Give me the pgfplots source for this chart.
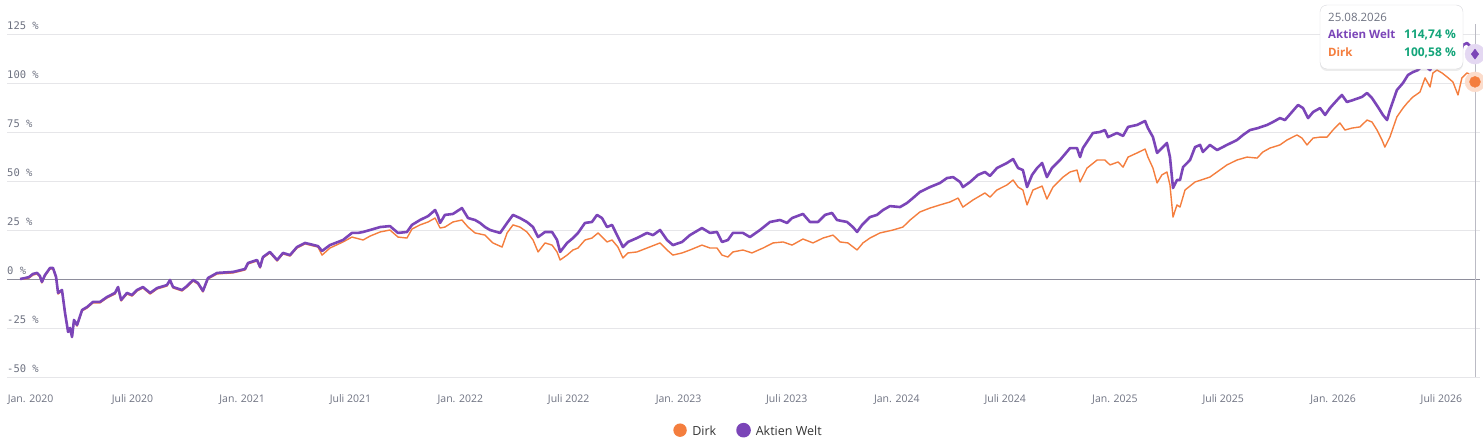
\documentclass[border=0pt]{standalone}
\usepackage{fontspec}
\setmainfont{Open Sans}
\newfontfamily\monof{DejaVu Sans Mono}
\usepackage{pgfplots}
\usepackage{pgfplotstable}
\pgfplotsset{compat=1.18}
\usetikzlibrary{shadows}
\definecolor{welt}{HTML}{7B45B8}
\definecolor{dirk}{HTML}{F47E3E}
\definecolor{welthalo}{HTML}{E4D8F2}
\definecolor{dirkhalo}{HTML}{FCDCCB}
\definecolor{tipgreen}{HTML}{14A57A}
\definecolor{labelgray}{HTML}{6E7281}
\definecolor{gridgray}{HTML}{E6E6E9}
\definecolor{zerogray}{HTML}{8E8E9C}
\definecolor{legendtext}{HTML}{333333}
\definecolor{tipborder}{HTML}{D8D8DC}

\pgfplotstableread{
x y
2019.982 0.0
2020.005 0.5
2020.023 1.0
2020.041 2.6
2020.060 3.1
2020.073 1.5
2020.082 -1.5
2020.096 2.0
2020.119 5.6
2020.133 5.6
2020.147 1.0
2020.156 -7.1
2020.174 -5.6
2020.188 -17.3
2020.202 -27.0
2020.211 -25.0
2020.220 -29.6
2020.229 -20.9
2020.243 -23.5
2020.266 -15.8
2020.289 -14.3
2020.316 -11.7
2020.348 -11.7
2020.380 -9.2
2020.417 -7.1
2020.431 -4.1
2020.445 -10.7
2020.472 -7.1
2020.495 -8.2
2020.518 -5.6
2020.545 -4.1
2020.578 -7.1
2020.610 -4.6
2020.655 -3.1
2020.669 -0.5
2020.683 -4.1
2020.724 -5.6
2020.747 -3.6
2020.775 -0.5
2020.797 -2.0
2020.820 -6.1
2020.843 0.5
2020.885 3.1
2020.958 3.6
2021.013 5.1
2021.027 8.2
2021.068 9.7
2021.082 6.1
2021.095 11.2
2021.127 13.8
2021.160 9.7
2021.187 13.3
2021.219 12.2
2021.251 16.3
2021.288 18.4
2021.347 16.8
2021.366 14.3
2021.402 17.3
2021.462 19.9
2021.503 23.5
2021.531 23.5
2021.554 24.0
2021.586 25.0
2021.632 26.5
2021.677 27.0
2021.714 23.5
2021.755 24.0
2021.778 27.6
2021.815 30.1
2021.852 32.1
2021.884 35.2
2021.897 32.1
2021.907 28.6
2021.929 32.7
2021.966 33.2
2022.007 36.2
2022.035 31.1
2022.067 30.1
2022.090 28.6
2022.113 26.5
2022.136 25.0
2022.182 23.5
2022.214 28.6
2022.241 32.7
2022.273 31.1
2022.305 29.1
2022.333 26.5
2022.356 21.4
2022.388 24.0
2022.420 24.0
2022.443 19.9
2022.457 13.8
2022.489 18.4
2022.516 20.9
2022.539 23.5
2022.571 28.6
2022.603 29.1
2022.626 32.7
2022.649 31.1
2022.672 26.5
2022.695 27.6
2022.718 22.4
2022.745 16.3
2022.768 18.9
2022.809 20.9
2022.855 23.5
2022.883 22.4
2022.915 25.0
2022.947 19.9
2022.974 17.3
2023.016 18.9
2023.052 22.4
2023.107 26.0
2023.144 23.5
2023.176 24.0
2023.199 18.9
2023.226 19.9
2023.249 23.5
2023.295 23.5
2023.327 21.4
2023.373 25.0
2023.419 29.1
2023.465 30.1
2023.497 28.6
2023.520 31.1
2023.570 33.2
2023.602 29.1
2023.639 29.1
2023.671 32.7
2023.703 33.7
2023.726 30.1
2023.772 29.1
2023.799 26.5
2023.818 24.0
2023.841 27.6
2023.877 31.6
2023.909 32.7
2023.937 35.2
2023.969 37.2
2024.015 36.7
2024.047 38.8
2024.074 41.3
2024.106 44.4
2024.152 46.9
2024.198 49.0
2024.230 51.5
2024.258 52.0
2024.290 49.5
2024.303 46.9
2024.336 49.5
2024.372 53.1
2024.404 54.6
2024.427 52.6
2024.459 56.6
2024.505 59.2
2024.533 61.2
2024.556 56.6
2024.578 55.6
2024.597 46.9
2024.620 53.1
2024.643 56.6
2024.666 59.2
2024.688 52.0
2024.711 56.6
2024.748 60.7
2024.794 66.8
2024.826 66.8
2024.840 62.2
2024.853 66.8
2024.899 74.5
2024.931 75.0
2024.954 76.0
2024.968 72.4
2025.009 74.5
2025.037 73.0
2025.060 77.6
2025.101 78.6
2025.138 80.6
2025.151 77.0
2025.174 72.4
2025.193 64.3
2025.215 66.8
2025.238 69.4
2025.252 62.2
2025.266 46.4
2025.284 50.5
2025.298 50.5
2025.312 57.1
2025.344 60.7
2025.367 67.3
2025.390 68.4
2025.403 64.8
2025.435 68.4
2025.468 65.8
2025.513 68.4
2025.559 70.9
2025.587 73.5
2025.619 76.0
2025.655 77.0
2025.697 78.6
2025.724 80.1
2025.756 82.1
2025.779 81.1
2025.811 85.2
2025.839 88.8
2025.862 87.2
2025.885 82.1
2025.908 85.2
2025.940 87.2
2025.963 83.7
2025.985 87.2
2026.018 91.3
2026.040 93.9
2026.063 90.3
2026.091 91.3
2026.132 92.9
2026.155 94.9
2026.178 92.3
2026.205 87.8
2026.228 83.7
2026.247 81.1
2026.260 86.2
2026.292 96.4
2026.320 100.0
2026.343 104.1
2026.366 105.6
2026.389 106.6
2026.398 107.7
2026.421 108.7
2026.444 106.6
2026.457 109.7
2026.476 112.8
2026.499 114.3
2026.522 115.8
2026.549 114.3
2026.572 111.7
2026.595 119.4
2026.613 120.4
2026.636 117.9
2026.650 114.74
}\welttable

\pgfplotstableread{
x y
2019.982 0.0
2020.005 0.0
2020.023 0.5
2020.041 2.0
2020.060 2.6
2020.073 1.0
2020.082 -2.0
2020.096 1.5
2020.119 5.1
2020.133 5.1
2020.147 0.5
2020.156 -7.7
2020.174 -6.1
2020.188 -17.9
2020.202 -27.0
2020.211 -26.0
2020.220 -29.6
2020.229 -21.4
2020.243 -24.0
2020.266 -16.3
2020.289 -14.8
2020.316 -12.2
2020.348 -12.2
2020.380 -9.7
2020.417 -7.7
2020.431 -4.6
2020.445 -11.2
2020.472 -7.7
2020.495 -8.7
2020.518 -6.1
2020.545 -4.6
2020.578 -7.7
2020.610 -5.1
2020.655 -3.6
2020.669 -1.0
2020.683 -4.6
2020.724 -6.1
2020.747 -4.1
2020.775 -1.0
2020.797 -2.6
2020.820 -6.6
2020.843 0.0
2020.885 2.6
2020.958 3.1
2021.013 4.6
2021.027 7.7
2021.068 9.2
2021.082 5.6
2021.095 10.7
2021.127 13.3
2021.160 9.2
2021.187 12.8
2021.219 11.7
2021.251 15.8
2021.288 17.9
2021.347 16.3
2021.366 12.2
2021.402 15.8
2021.462 18.9
2021.503 21.4
2021.554 19.9
2021.586 21.9
2021.632 24.0
2021.677 25.0
2021.714 21.4
2021.755 20.9
2021.778 25.5
2021.815 27.6
2021.852 29.1
2021.884 31.1
2021.907 26.0
2021.929 26.5
2021.966 29.1
2022.007 30.1
2022.035 26.5
2022.067 23.5
2022.113 22.4
2022.149 18.4
2022.191 16.3
2022.214 23.5
2022.241 27.6
2022.273 26.5
2022.305 24.0
2022.333 19.9
2022.356 13.8
2022.388 18.4
2022.420 17.3
2022.443 13.8
2022.457 9.7
2022.489 12.2
2022.516 14.8
2022.539 15.8
2022.571 19.9
2022.603 20.9
2022.631 23.5
2022.672 18.9
2022.695 19.9
2022.722 16.3
2022.745 10.7
2022.768 13.3
2022.809 13.8
2022.855 15.8
2022.915 18.4
2022.947 14.8
2022.974 12.2
2023.016 13.3
2023.052 14.8
2023.107 17.3
2023.144 15.8
2023.176 15.8
2023.199 12.2
2023.226 11.2
2023.249 13.8
2023.295 14.8
2023.336 13.3
2023.387 15.8
2023.433 18.4
2023.479 18.9
2023.520 17.3
2023.570 20.4
2023.616 18.4
2023.662 20.9
2023.708 22.4
2023.740 18.9
2023.776 18.4
2023.818 14.8
2023.845 18.4
2023.877 20.9
2023.923 23.5
2023.983 25.0
2024.028 26.5
2024.061 30.1
2024.106 34.2
2024.152 36.2
2024.198 37.8
2024.244 39.3
2024.281 41.3
2024.303 36.7
2024.349 40.3
2024.404 43.9
2024.427 41.8
2024.459 45.4
2024.505 48.0
2024.533 50.5
2024.556 46.9
2024.578 45.4
2024.597 37.8
2024.624 45.4
2024.666 47.4
2024.688 40.8
2024.716 46.9
2024.762 52.0
2024.794 54.6
2024.826 55.6
2024.840 49.5
2024.872 56.6
2024.918 60.7
2024.954 60.7
2024.977 58.2
2025.014 59.7
2025.037 57.1
2025.060 62.2
2025.101 64.3
2025.138 66.3
2025.151 62.2
2025.174 56.6
2025.193 49.0
2025.215 53.1
2025.238 54.6
2025.252 48.0
2025.266 31.6
2025.284 37.8
2025.298 36.7
2025.321 45.4
2025.367 49.5
2025.435 52.0
2025.513 58.2
2025.559 60.7
2025.605 62.2
2025.651 61.7
2025.678 64.8
2025.710 66.8
2025.756 68.4
2025.788 70.9
2025.834 73.5
2025.857 71.9
2025.880 68.4
2025.908 71.9
2025.940 72.4
2025.972 72.4
2025.999 76.0
2026.031 79.6
2026.054 76.0
2026.086 77.0
2026.123 77.6
2026.155 81.1
2026.178 80.1
2026.201 76.0
2026.224 70.9
2026.237 67.3
2026.260 72.4
2026.292 82.7
2026.320 87.2
2026.343 90.3
2026.366 92.9
2026.398 95.4
2026.421 102.6
2026.444 98.0
2026.457 105.1
2026.476 106.6
2026.499 105.1
2026.522 103.1
2026.549 100.5
2026.572 93.9
2026.590 102.6
2026.613 105.1
2026.636 104.1
2026.650 100.58
}\dirktable

\begin{document}
\begin{tikzpicture}
\path[use as bounding box] (0pt,0pt) rectangle (1483pt,440pt);
\begin{axis}[
  at={(7pt,63pt)}, anchor=south west,
  scale only axis, width=1473pt, height=352.8pt,
  xmin=2019.922, xmax=2026.673, ymin=-50, ymax=130,
  axis line style={draw=none},
  major tick length=0pt,
  ytick={-50,-25,0,25,50,75,100,125},
  yticklabels={-50 \%,-25 \%,0 \%,25 \%,50 \%,75 \%,100 \%,125 \%},
  yticklabel style={anchor=base west, inner sep=0pt, yshift=5pt,
    font=\monof\fontsize{10.5}{12}\selectfont, text=labelgray},
  ymajorgrids, grid style={gridgray, line width=1pt},
  extra y ticks={0}, extra y tick labels={},
  extra y tick style={grid style={zerogray, line width=1pt}},
  xtick={2020,2020.497,2021,2021.496,2022,2022.496,2023,2023.496,2024,2024.497,2025,2025.496,2026,2026.496},
  xticklabels={\hspace*{13pt}Jan. 2020,Juli 2020,Jan. 2021,Juli 2021,Jan. 2022,Juli 2022,Jan. 2023,Juli 2023,Jan. 2024,Juli 2024,Jan. 2025,Juli 2025,Jan. 2026,Juli 2026},
  xticklabel style={anchor=base, inner sep=0pt, yshift=-25pt,
    font=\fontsize{10.5}{12}\selectfont, text=labelgray},
  clip=false,
  legend columns=2,
  legend style={at={(0.5034,-0.153)}, anchor=center, draw=none, fill=none,
    font=\fontsize{12.5}{15}\selectfont, text=legendtext,
    /tikz/every even column/.append style={column sep=18pt}},
  legend image code/.code={\fill[#1] (0cm,0.05cm) circle (6pt); \path[draw=none,fill=none] (-0.22cm,0cm) -- (0.36cm,0cm);},
]
\addplot[forget plot, color=zerogray!60, line width=1pt] coordinates {(2026.650,-50) (2026.650,130)};
\addplot[color=dirk, line width=1.4pt, line join=round] table {\dirktable};
\addlegendentry{Dirk}
\addplot[color=welt, line width=2.6pt, line join=round] table {\welttable};
\addlegendentry{Aktien Welt}
\addplot[forget plot, only marks, mark=*, mark size=10pt, color=dirkhalo] coordinates {(2026.650,100.58)};
\addplot[forget plot, only marks, mark=*, mark size=5.5pt, color=dirk] coordinates {(2026.650,100.58)};
\addplot[forget plot, only marks, mark=*, mark size=10pt, color=welthalo] coordinates {(2026.650,114.74)};
\addplot[forget plot, only marks, mark=diamond*, mark size=5pt, color=welt] coordinates {(2026.650,114.74)};
\end{axis}
\draw[draw=tipborder, fill=white, rounded corners=7pt,
  drop shadow={shadow xshift=0pt, shadow yshift=-2pt, opacity=0.15}]
  (1320pt,371pt) rectangle (1463pt,435pt);
\node[anchor=base west, inner sep=0pt, text=labelgray, font=\fontsize{11.5}{12}\selectfont] at (1328pt,418pt) {25.08.2026};
\node[anchor=base west, inner sep=0pt, text=welt, font=\bfseries\fontsize{11.5}{12}\selectfont] at (1328pt,401pt) {Aktien Welt};
\node[anchor=base east, inner sep=0pt, text=tipgreen, font=\bfseries\fontsize{12}{12}\selectfont] at (1456pt,401pt) {114,74 \%};
\node[anchor=base west, inner sep=0pt, text=dirk, font=\bfseries\fontsize{11.5}{12}\selectfont] at (1328pt,383pt) {Dirk};
\node[anchor=base east, inner sep=0pt, text=tipgreen, font=\bfseries\fontsize{12}{12}\selectfont] at (1456pt,383pt) {100,58 \%};
\end{tikzpicture}
\end{document}
